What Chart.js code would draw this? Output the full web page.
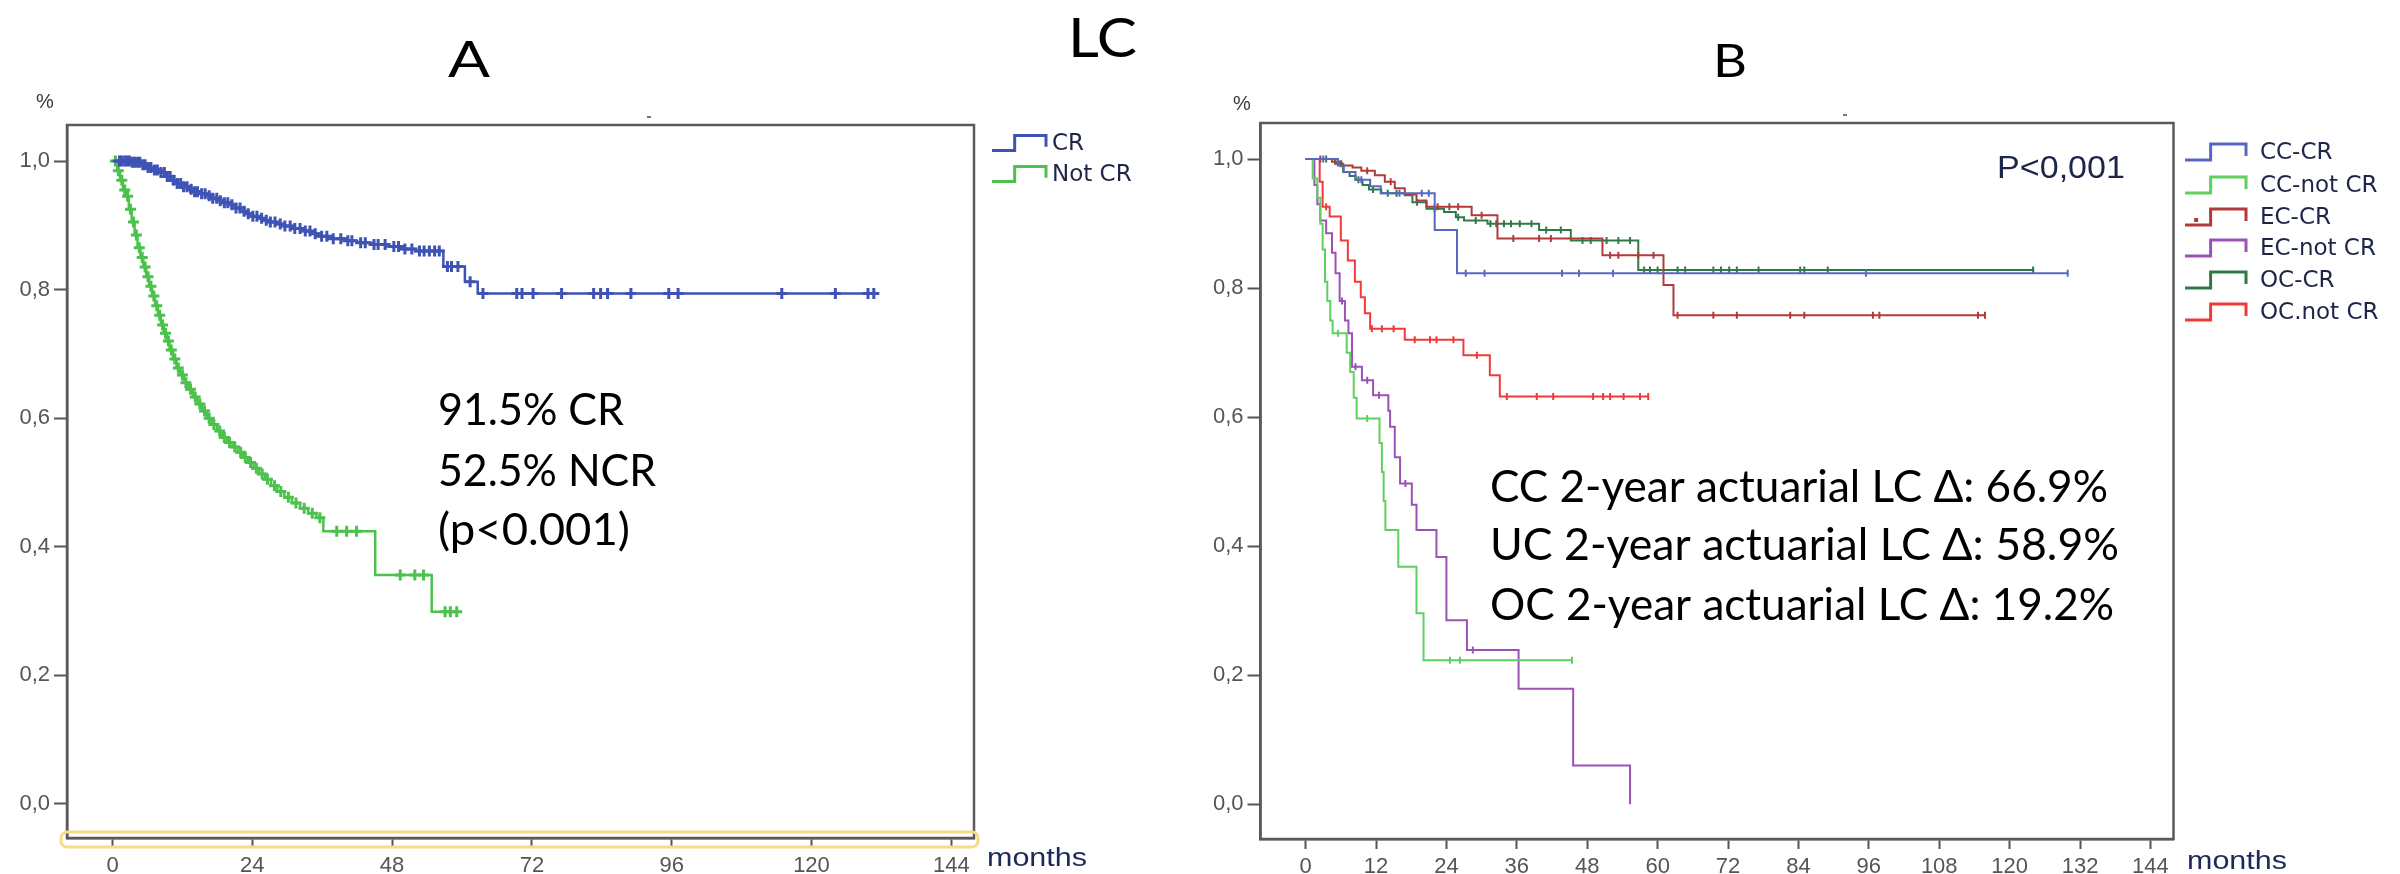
<!DOCTYPE html>
<html>
<head>
<meta charset="utf-8">
<script src="https://cdn.jsdelivr.net/npm/chart.js@4.4.1/dist/chart.umd.min.js"></script>
<style>
  html, body { margin: 0; padding: 0; background: #fff; }
  #wrap { position: relative; width: 2400px; height: 874px; overflow: hidden; }
  .panel { position: absolute; top: 0; width: 1200px; height: 874px; }
</style>
</head>
<body>
<div id="wrap">
  <div class="panel" style="left:0"><canvas id="chartA" width="1200" height="874"></canvas></div>
  <div class="panel" style="left:1200px"><canvas id="chartB" width="1200" height="874"></canvas></div>
</div>
<script>
// ---- axis ticks ----
const survivalTicks = [0, 0.2, 0.4, 0.6, 0.8, 1.0];
const monthTicksA = [0, 24, 48, 72, 96, 120, 144];
const monthTicksB = [0, 12, 24, 36, 48, 60, 72, 84, 96, 108, 120, 132, 144];

// ---- panel A: CR ----
const crTimes = [0, 3, 5, 6, 7, 8, 9, 10, 11, 12, 13, 14, 15, 16, 17, 18, 19, 20, 21, 22, 23, 24, 25, 26, 27, 28, 29.5, 31, 32.5, 34, 35.5, 37.5, 40, 42, 44.5, 47, 49.5, 52, 56.8, 60.5, 62.7];
const crSurv = [1, 0.998, 0.994, 0.99, 0.986, 0.982, 0.976, 0.97, 0.965, 0.96, 0.956, 0.952, 0.949, 0.946, 0.942, 0.938, 0.935, 0.932, 0.927, 0.922, 0.918, 0.914, 0.911, 0.908, 0.905, 0.902, 0.899, 0.895, 0.891, 0.887, 0.883, 0.879, 0.876, 0.873, 0.87, 0.867, 0.863, 0.86, 0.836, 0.812, 0.794];
const crEnd = 130.7;
const crCensor = [1.2, 1.6, 2.1, 2.5, 2.9, 3.4, 3.8, 4.3, 4.7, 5.2, 5.6, 6.1, 6.6, 7.2, 7.7, 8.3, 8.9, 9.4, 9.9, 10.5, 11.1, 11.7, 12.2, 12.8, 13.5, 14.1, 14.6, 15.3, 15.9, 16.6, 17.2, 17.9, 18.5, 19.2, 19.8, 20.5, 21.2, 21.9, 22.6, 23.3, 24.1, 24.8, 25.6, 26.4, 27.1, 27.9, 28.8, 29.6, 30.5, 31.3, 32.2, 33.1, 33.9, 34.8, 35.9, 36.8, 37.9, 39.2, 40.4, 41.1, 42.6, 43.4, 44.9, 45.6, 46.8, 48.3, 49.1, 50.2, 51.4, 52.7, 53.5, 54.4, 55.3, 56.1, 57.5, 58.2, 59.3, 61.4, 63.6, 69.4, 70.3, 72.2, 77.1, 82.6, 83.8, 85.0, 89.0, 95.5, 97.1, 114.9, 124.1, 129.7, 130.7];

// ---- panel A: Not CR ----
const ncrTimes = [0, 0.8, 1.3, 1.8, 2.3, 2.8, 3.3, 3.8, 4.3, 4.8, 5.3, 5.8, 6.3, 6.8, 7.3, 7.8, 8.3, 8.8, 9.3, 9.8, 10.4, 11, 11.6, 12.3, 13, 13.8, 14.6, 15.4, 16.2, 17, 17.9, 18.8, 19.7, 20.6, 21.5, 22.4, 23.3, 24.2, 25.2, 26.2, 27.2, 28.3, 29.5, 30.8, 32.2, 33.6, 35, 36.2, 45.1, 54.8];
const ncrSurv = [1, 0.985, 0.97, 0.955, 0.945, 0.925, 0.905, 0.885, 0.865, 0.85, 0.835, 0.82, 0.805, 0.79, 0.775, 0.76, 0.745, 0.732, 0.72, 0.706, 0.692, 0.678, 0.667, 0.655, 0.645, 0.633, 0.622, 0.611, 0.6, 0.59, 0.58, 0.57, 0.562, 0.555, 0.547, 0.539, 0.531, 0.522, 0.513, 0.505, 0.495, 0.486, 0.477, 0.468, 0.46, 0.452, 0.445, 0.424, 0.356, 0.299];
const ncrEnd = 59.1;
const ncrCensor = [0.5, 1.0, 1.6, 2.1, 2.6, 3.1, 3.6, 4.1, 4.6, 5.1, 5.6, 6.1, 6.6, 7.1, 7.6, 8.1, 8.6, 9.1, 9.6, 10.1, 10.7, 11.3, 12.0, 12.6, 13.4, 14.2, 15.0, 15.8, 16.6, 17.4, 18.4, 19.2, 20.1, 21.0, 22.0, 22.8, 23.7, 24.7, 25.7, 26.6, 27.8, 28.9, 30.2, 31.5, 32.9, 34.3, 35.6, 38.5, 40.2, 41.9, 49.4, 51.9, 53.4, 57.1, 58.0, 59.1];

// ---- panel B ----
const ccCrTimes = [0, 5.5, 6.5, 8.5, 11, 12.8, 22.0, 25.8];
const ccCrSurv = [1, 0.99, 0.98, 0.968, 0.958, 0.947, 0.89, 0.823];
const ccCrEnd = 129.9;
const ccCrCensor = [3.0, 9.5, 16, 19.8, 21, 27.3, 30.5, 43.7, 46.6, 52.4, 95.5, 129.9];

const ccNotCrTimes = [0, 1.2, 2.0, 2.5, 2.9, 3.3, 3.7, 4.2, 4.6, 7.0, 7.6, 8.2, 8.7, 12.6, 13.0, 13.3, 13.6, 15.8, 18.9, 20.1];
const ccNotCrSurv = [1, 0.97, 0.94, 0.9, 0.86, 0.81, 0.78, 0.75, 0.73, 0.70, 0.67, 0.63, 0.598, 0.56, 0.515, 0.47, 0.425, 0.368, 0.296, 0.223];
const ccNotCrEnd = 45.4;
const ccNotCrCensor = [5.5, 10.5, 24.6, 26.3, 45.4];

const ecCrTimes = [0, 4.5, 6.1, 8, 9.5, 11.8, 13.5, 15.2, 16.9, 18.9, 20.6, 28.3, 32.7, 50.6, 61.0, 62.7];
const ecCrSurv = [1, 0.996, 0.99, 0.987, 0.982, 0.975, 0.965, 0.955, 0.945, 0.936, 0.926, 0.913, 0.877, 0.851, 0.805, 0.758];
const ecCrEnd = 115.8;
const ecCrCensor = [2.5, 5.5, 10.5, 14.5, 22.5, 24.5, 26, 30, 35.4, 39.8, 41.8, 51.9, 53.3, 56.7, 59.3, 63.4, 69.5, 73.5, 82.6, 85.0, 96.7, 97.8, 114.6, 115.8];

const ecNotCrTimes = [0, 1.5, 2.0, 2.5, 3.5, 4.5, 5.1, 5.8, 6.7, 7.3, 7.9, 9.6, 11.5, 14.1, 14.4, 15.2, 16.1, 18.1, 18.9, 22.3, 24.0, 27.5, 36.3, 45.6, 55.3];
const ecNotCrSurv = [1, 0.96, 0.93, 0.905, 0.885, 0.855, 0.823, 0.78, 0.75, 0.73, 0.678, 0.657, 0.634, 0.61, 0.585, 0.538, 0.497, 0.464, 0.425, 0.383, 0.285, 0.239, 0.179, 0.06, 0];
const ecNotCrEnd = 55.3;
const ecNotCrCensor = [6.2, 8.5, 10.5, 12.5, 17, 28.5];

const ocCrTimes = [0, 5.0, 6.4, 7.5, 8.5, 9.7, 10.8, 12.9, 16.9, 18.2, 20.6, 23.6, 25.6, 27.0, 31.0, 39.8, 45.2, 56.7];
const ocCrSurv = [1, 0.993, 0.98, 0.974, 0.968, 0.96, 0.953, 0.947, 0.944, 0.933, 0.923, 0.918, 0.910, 0.905, 0.900, 0.890, 0.874, 0.828];
const ocCrEnd = 124.2;
const ocCrCensor = [3.5, 6, 9, 11.5, 14, 15.5, 19, 22, 26, 29, 31.5, 32.5, 33.8, 35, 36.5, 38.5, 41, 43.5, 47.2, 48.6, 51.3, 53.3, 55.3, 57.7, 58.7, 60.0, 63.4, 64.7, 69.5, 70.8, 72.2, 73.5, 77.2, 84.3, 85.0, 89.0, 124.0];

const ocNotCrTimes = [0, 2.4, 2.9, 4.1, 6.0, 7.2, 8.4, 9.4, 10.1, 11.0, 16.9, 26.9, 31.4, 33.1];
const ocNotCrSurv = [1, 0.965, 0.926, 0.911, 0.874, 0.843, 0.81, 0.786, 0.761, 0.737, 0.72, 0.696, 0.665, 0.632];
const ocNotCrEnd = 58.4;
const ocNotCrCensor = [3.5, 11.3, 13.0, 15.0, 18.6, 21.2, 22.3, 25.2, 29.2, 34.3, 39.4, 42.2, 49.0, 50.7, 51.9, 54.2, 57.0, 58.4];

// ---- text ----
const annotA = ['91.5% CR', '52.5% NCR', '(p<0.001)'];
const annotB = ['CC 2-year actuarial LC \u0394: 66.9%', 'UC 2-year actuarial LC \u0394: 58.9%', 'OC 2-year actuarial LC \u0394: 19.2%'];

function stepPoints(times, surv, end) {
  const pts = times.map((t, i) => ({ x: t, y: surv[i] }));
  if (end > times[times.length - 1]) pts.push({ x: end, y: surv[surv.length - 1] });
  return pts;
}

// censor marks sit on the curve at the value in force at that time
function censorPoints(times, surv, censor) {
  return censor.map(c => {
    let s = surv[0];
    for (let i = 0; i < times.length; i++) if (times[i] <= c) s = surv[i];
    return { x: c, y: s };
  });
}

function curve(label, color, times, surv, end, censor, mark) {
  return [
    {
      label: label, isCurve: true,
      data: stepPoints(times, surv, end),
      borderColor: color, borderWidth: mark.line, stepped: 'before',
      pointRadius: 0, fill: false
    },
    {
      label: label + ' (censored)',
      data: censorPoints(times, surv, censor),
      showLine: false,
      borderColor: color, backgroundColor: color,
      pointStyle: mark.style, pointRadius: mark.r,
      pointBorderWidth: mark.w, pointRotation: mark.rot || 0
    }
  ];
}

function fitText(ctx, text, x, y, font, targetW, color) {
  ctx.save();
  ctx.font = font;
  ctx.fillStyle = color;
  ctx.textAlign = 'left';
  ctx.textBaseline = 'alphabetic';
  const w = ctx.measureText(text).width;
  ctx.translate(x, y);
  if (targetW) ctx.scale(targetW / w, 1);
  ctx.fillText(text, 0, 0);
  ctx.restore();
}

const decorPlugin = {
  id: 'decor',
  afterDraw(chart, args, opts) {
    const ctx = chart.ctx;
    const a = chart.chartArea;

    // box around the plot
    ctx.save();
    ctx.strokeStyle = '#5a5a5a';
    ctx.lineWidth = 2.5;
    ctx.strokeRect(a.left, a.top, a.right - a.left, a.bottom - a.top);
    ctx.restore();

    if (opts.highlight) {
      const h = opts.highlight;
      ctx.save();
      ctx.strokeStyle = '#f6dc84';
      ctx.lineWidth = 3;
      ctx.beginPath();
      ctx.roundRect(h.x, h.y, h.w, h.h, 6);
      ctx.stroke();
      ctx.restore();
    }

    if (opts.topMark) {
      ctx.fillStyle = '#777';
      ctx.fillRect(opts.topMark.x - 2, opts.topMark.y - 1, 4, 2);
    }

    fitText(ctx, '%', opts.percent.x, opts.percent.y, '20px "Liberation Sans", Arial, sans-serif', 0, '#3a3a3a');
    fitText(ctx, 'months', opts.months.x, opts.months.y, '25px "Liberation Sans", Arial, sans-serif', opts.months.w, '#1c2a58');

    opts.texts.forEach(t => {
      const fam = t.family || 'Lato, "Open Sans", sans-serif';
      fitText(ctx, t.text, t.x, t.y, t.size + 'px ' + fam, t.w, t.color || '#000');
    });

    // legend with SPSS-style step icons
    const lg = opts.legend;
    const curves = chart.data.datasets.filter(d => d.isCurve);
    curves.forEach((d, i) => {
      const cy = lg.rows[i];
      const x0 = lg.iconX, w = lg.iconW, h = lg.iconH;
      const yb = cy + h / 2, yt = cy - h / 2;
      ctx.save();
      ctx.strokeStyle = d.borderColor;
      ctx.lineWidth = 3;
      ctx.beginPath();
      ctx.moveTo(x0, yb);
      ctx.lineTo(x0 + w * 0.42, yb);
      ctx.lineTo(x0 + w * 0.42, yt);
      ctx.lineTo(x0 + w, yt);
      ctx.lineTo(x0 + w, yt + h * 0.75);
      ctx.stroke();
      if (d.legendDot) {
        ctx.fillStyle = d.borderColor;
        ctx.fillRect(x0 + w * 0.15, yb - 7, 4, 4);
      }
      ctx.restore();
      ctx.save();
      ctx.font = lg.size + 'px "DejaVu Sans", Verdana, sans-serif';
      ctx.fillStyle = '#1e2548';
      ctx.textBaseline = 'middle';
      ctx.fillText(d.label, lg.textX, cy + 1);
      ctx.restore();
    });
  }
};

function axes(xTicks, xMin, xMax, yMin, yMax, yWidth, xHeight) {
  const tickFont = { family: '"Liberation Sans", Arial, sans-serif', size: 22 };
  return {
    x: {
      type: 'linear', min: xMin, max: xMax,
      afterBuildTicks: s => { s.ticks = xTicks.map(v => ({ value: v })); },
      afterFit: s => { s.height = xHeight; },
      grid: { drawOnChartArea: false, drawTicks: true, tickLength: 10, tickColor: '#555', tickWidth: 2 },
      border: { display: true, color: '#5a5a5a', width: 2.5 },
      ticks: { color: '#555', font: tickFont, padding: 5, maxRotation: 0, autoSkip: false }
    },
    y: {
      type: 'linear', min: yMin, max: yMax,
      afterBuildTicks: s => { s.ticks = survivalTicks.map(v => ({ value: v })); },
      afterFit: s => { s.width = yWidth; },
      grid: { drawOnChartArea: false, drawTicks: true, tickLength: 13, tickColor: '#555', tickWidth: 2 },
      border: { display: true, color: '#5a5a5a', width: 2.5 },
      ticks: {
        color: '#555', font: tickFont, padding: 4,
        callback: v => v.toFixed(1).replace('.', ',')
      }
    }
  };
}

Chart.register(decorPlugin);

const markA = { style: 'cross', r: 5.5, w: 3, line: 2.5 };
const markB = { style: 'line', r: 3.5, w: 2, rot: 90, line: 2 };

const datasetsA = [].concat(
  curve('CR', '#3f53b6', crTimes, crSurv, crEnd, crCensor, markA),
  curve('Not CR', '#4cc24c', ncrTimes, ncrSurv, ncrEnd, ncrCensor, markA)
);

new Chart(document.getElementById('chartA'), {
  type: 'line',
  data: { datasets: datasetsA },
  options: {
    responsive: false, animation: false, devicePixelRatio: 1, events: [],
    layout: { padding: { left: 0, top: 125, right: 226, bottom: 0 } },
    scales: axes(monthTicksA, -7.81, 147.9, -0.053, 1.056, 67, 36),
    plugins: {
      legend: { display: false },
      tooltip: { enabled: false },
      decor: {
        percent: { x: 36, y: 108 },
        topMark: { x: 649, y: 117 },
        highlight: { x: 61, y: 832, w: 917, h: 15 },
        months: { x: 987, y: 866, w: 100 },
        texts: [
          { text: 'A', x: 448, y: 77, w: 42, size: 51 },
          { text: 'LC', x: 1068, y: 57, w: 69, size: 54 },
          { text: annotA[0], x: 438, y: 425, w: 186, size: 44 },
          { text: annotA[1], x: 438, y: 486, w: 218, size: 44 },
          { text: annotA[2], x: 438, y: 545, w: 192, size: 44 }
        ],
        legend: { iconX: 992, iconW: 54, iconH: 15, textX: 1052, rows: [143, 174], size: 23 }
      }
    }
  }
});

const datasetsB = [].concat(
  curve('CC-CR', '#5868c2', ccCrTimes, ccCrSurv, ccCrEnd, ccCrCensor, markB),
  curve('CC-not CR', '#5fd05f', ccNotCrTimes, ccNotCrSurv, ccNotCrEnd, ccNotCrCensor, markB),
  curve('EC-CR', '#b23a3a', ecCrTimes, ecCrSurv, ecCrEnd, ecCrCensor, markB),
  curve('EC-not CR', '#9a52b6', ecNotCrTimes, ecNotCrSurv, ecNotCrEnd, ecNotCrCensor, markB),
  curve('OC-CR', '#2f7a46', ocCrTimes, ocCrSurv, ocCrEnd, ocCrCensor, markB),
  curve('OC.not CR', '#f03a3a', ocNotCrTimes, ocNotCrSurv, ocNotCrEnd, ocNotCrCensor, markB)
);
datasetsB[4].legendDot = true;

new Chart(document.getElementById('chartB'), {
  type: 'line',
  data: { datasets: datasetsB },
  options: {
    responsive: false, animation: false, devicePixelRatio: 1, events: [],
    layout: { padding: { left: 0, top: 123, right: 226.5, bottom: 0 } },
    scales: axes(monthTicksB, -7.69, 147.93, -0.054, 1.056, 60.5, 35),
    plugins: {
      legend: { display: false },
      tooltip: { enabled: false },
      decor: {
        percent: { x: 33, y: 110 },
        topMark: { x: 645, y: 115 },
        months: { x: 987, y: 869, w: 100 },
        texts: [
          { text: 'B', x: 513, y: 77, w: 34, size: 47 },
          { text: 'P<0,001', x: 797, y: 178, w: 128, size: 32, family: '"Liberation Sans", Arial, sans-serif', color: '#1e2548' },
          { text: annotB[0], x: 290, y: 502, w: 618, size: 44 },
          { text: annotB[1], x: 290, y: 560, w: 629, size: 44 },
          { text: annotB[2], x: 290, y: 620, w: 624, size: 44 }
        ],
        legend: { iconX: 985, iconW: 61, iconH: 16, textX: 1060, rows: [152, 185, 217, 248, 280, 312], size: 23 }
      }
    }
  }
});
</script>
</body>
</html>
